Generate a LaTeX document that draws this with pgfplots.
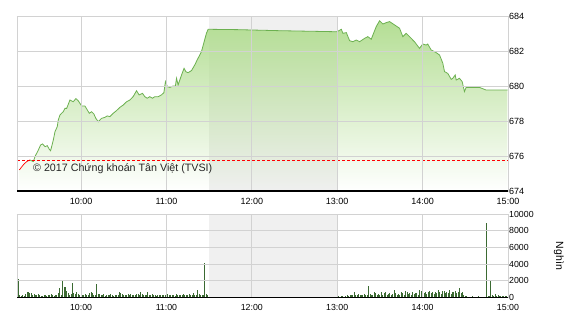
\documentclass[border=0pt]{standalone}
\usepackage{pgfplots}
\pgfplotsset{compat=1.18}
\usetikzlibrary{fadings}
\usepackage{fontspec}
\setmainfont{Liberation Sans}
\definecolor{gridc}{HTML}{D2D2D2}
\definecolor{linec}{HTML}{6CB050}
\definecolor{filltop}{HTML}{B4DE94}
\definecolor{bandc}{HTML}{F0F0F0}
\definecolor{barc}{HTML}{3B6A32}
\begin{document}
\begin{tikzpicture}
\path[use as bounding box] (0pt,0pt) rectangle (570pt,320pt);
\begin{axis}[
  at={(17pt,129pt)}, anchor=south west,
  width=491pt, height=175pt, scale only axis,
  xmin=15, xmax=360, ymin=674, ymax=684,
  xtick={60,120,180,240,300,360},
  xticklabels={10:00,11:00,12:00,13:00,14:00,15:00},
  ytick={674,676,678,680,682,684},
  yticklabels={674,676,678,680,682,684},
  yticklabel pos=right,
  major tick length=0pt,
  grid=major, grid style={gridc, line width=0.8pt},
  axis line style={gridc, line width=0.8pt},
  axis on top,
  tick label style={font=\fontsize{9}{10}\selectfont},
  yticklabel style={inner sep=1pt},
  xticklabel style={yshift=-4pt},
  clip=true,
]
\fill[bandc] (axis cs:150,674) rectangle (axis cs:240,684);
\addplot[draw=none, fill=filltop, path fading=south] coordinates {
(16.6,674)(16.6,675.20)(19.4,675.49)(21.8,675.68)(24.1,675.77)(26.5,675.68)(27.6,675.96)(30.0,676.34)(31.6,676.63)(33.0,676.69)(34.7,676.53)(36.3,676.59)(37.7,676.38)(38.6,676.30)(40.5,676.91)(41.7,677.39)(43.3,677.68)(44.0,678.06)(45.2,678.34)(46.3,678.44)(47.5,678.53)(48.7,678.72)(49.9,678.72)(52.2,679.20)(54.5,679.10)(56.4,679.28)(58.0,679.16)(59.2,679.01)(60.4,678.86)(62.7,678.86)(64.4,678.63)(65.8,678.44)(67.4,678.53)(69.0,678.40)(70.4,678.15)(72.1,677.96)(74.4,678.15)(76.8,678.21)(78.4,678.29)(80.3,678.25)(82.6,678.44)(84.9,678.59)(87.3,678.78)(89.6,678.91)(92.0,679.10)(94.3,679.20)(96.6,679.39)(99.0,679.73)(100.8,679.49)(103.2,679.58)(104.8,679.39)(106.5,679.30)(108.3,679.39)(110.2,679.30)(111.8,679.39)(114.2,679.39)(116.5,679.49)(118.2,679.62)(119.3,680.25)(120.7,679.96)(122.4,679.92)(124.7,680.00)(126.3,680.00)(127.1,680.44)(128.2,680.06)(129.4,680.34)(130.6,680.63)(132.4,681.01)(133.6,680.82)(135.2,680.76)(137.6,680.88)(139.9,681.20)(141.6,681.49)(143.4,681.77)(144.6,681.96)(146.2,682.44)(148.1,683.01)(149.3,683.24)(170,683.22)(199.6,683.16)(239.8,683.10)
(242.9,683.24)(244.0,683.01)(246.4,683.05)(248.7,682.59)(251.0,682.53)(253.4,682.63)(255.7,682.53)(259.2,682.72)(261.5,682.82)(263.9,682.67)(267.4,683.39)(269.8,683.73)(272.1,683.54)(274.4,683.62)(276.8,683.68)(280.3,683.49)(283.8,683.30)(286.1,682.82)(288.5,683.01)(292.0,682.72)(294.3,682.53)(297.8,682.15)(300.1,682.40)(302.5,682.34)(303.6,682.40)(306.0,682.06)(309.5,681.91)(311.9,681.77)(314.2,681.30)(315.4,680.82)(317.7,680.72)(320.1,680.38)(321.2,680.44)(322.9,680.63)(323.6,680.34)(325.9,680.44)(327.8,680.25)(329.4,679.68)(330.6,679.92)(339.9,679.92)(344.6,679.77)(359.8,679.77)(359.8,674)
};
\addplot[red, line width=0.7pt] coordinates {
(16.6,675.20)(19.4,675.49)(21.8,675.68)(24.1,675.77)
};
\addplot[linec, line width=0.8pt] coordinates {
(24.1,675.77)(26.5,675.68)(27.6,675.96)(30.0,676.34)(31.6,676.63)(33.0,676.69)(34.7,676.53)(36.3,676.59)(37.7,676.38)(38.6,676.30)(40.5,676.91)(41.7,677.39)(43.3,677.68)(44.0,678.06)(45.2,678.34)(46.3,678.44)(47.5,678.53)(48.7,678.72)(49.9,678.72)(52.2,679.20)(54.5,679.10)(56.4,679.28)(58.0,679.16)(59.2,679.01)(60.4,678.86)(62.7,678.86)(64.4,678.63)(65.8,678.44)(67.4,678.53)(69.0,678.40)(70.4,678.15)(72.1,677.96)(74.4,678.15)(76.8,678.21)(78.4,678.29)(80.3,678.25)(82.6,678.44)(84.9,678.59)(87.3,678.78)(89.6,678.91)(92.0,679.10)(94.3,679.20)(96.6,679.39)(99.0,679.73)(100.8,679.49)(103.2,679.58)(104.8,679.39)(106.5,679.30)(108.3,679.39)(110.2,679.30)(111.8,679.39)(114.2,679.39)(116.5,679.49)(118.2,679.62)(119.3,680.25)(120.7,679.96)(122.4,679.92)(124.7,680.00)(126.3,680.00)(127.1,680.44)(128.2,680.06)(129.4,680.34)(130.6,680.63)(132.4,681.01)(133.6,680.82)(135.2,680.76)(137.6,680.88)(139.9,681.20)(141.6,681.49)(143.4,681.77)(144.6,681.96)(146.2,682.44)(148.1,683.01)(149.3,683.24)(170,683.22)(199.6,683.16)(239.8,683.10)
(242.9,683.24)(244.0,683.01)(246.4,683.05)(248.7,682.59)(251.0,682.53)(253.4,682.63)(255.7,682.53)(259.2,682.72)(261.5,682.82)(263.9,682.67)(267.4,683.39)(269.8,683.73)(272.1,683.54)(274.4,683.62)(276.8,683.68)(280.3,683.49)(283.8,683.30)(286.1,682.82)(288.5,683.01)(292.0,682.72)(294.3,682.53)(297.8,682.15)(300.1,682.40)(302.5,682.34)(303.6,682.40)(306.0,682.06)(309.5,681.91)(311.9,681.77)(314.2,681.30)(315.4,680.82)(317.7,680.72)(320.1,680.38)(321.2,680.44)(322.9,680.63)(323.6,680.34)(325.9,680.44)(327.8,680.25)(329.4,679.68)(330.6,679.92)(339.9,679.92)(344.6,679.77)(359.8,679.77)
};
\addplot[red, line width=0.8pt, dash pattern=on 3pt off 2pt] coordinates {(15,675.77)(360,675.77)};
\end{axis}
\draw[black, line width=1.3pt] (17pt,129pt) -- (508pt,129pt);
\node[anchor=west, inner sep=0pt, font=\fontsize{10.7}{12}\selectfont, text=black!85] at (33pt,151pt) {© 2017 Chứng khoán Tân Việt (TVSI)};

\begin{axis}[
  at={(17pt,22.5pt)}, anchor=south west,
  width=491pt, height=83.5pt, scale only axis,
  xmin=15, xmax=360, ymin=0, ymax=10000,
  xtick={60,120,180,240,300,360},
  xticklabels={10:00,11:00,12:00,13:00,14:00,15:00},
  ytick={0,2000,4000,6000,8000,10000},
  yticklabels={0,2000,4000,6000,8000,10000},
  scaled y ticks=false,
  yticklabel pos=right,
  major tick length=0pt,
  grid=major, grid style={gridc, line width=0.8pt},
  axis line style={gridc, line width=0.8pt},
  axis on top,
  tick label style={font=\fontsize{8.8}{10}\selectfont},
  yticklabel style={inner sep=1pt},
  xticklabel style={yshift=-3pt},
]
\fill[bandc] (axis cs:150,0) rectangle (axis cs:240,10000);
\addplot[ycomb, barc, line width=0.9pt, mark=none] coordinates {
(16,2200)(17,250)(18,150)(19,300)(20,200)(21,450)(22,650)(23,600)(24,550)(25,500)(26,300)(27,400)(28,250)(29,350)(30,380)(31,300)(32,200)(33,150)(34,280)(35,350)(36,200)(37,300)(38,250)(39,400)(40,300)(41,200)(42,350)(43,300)(44,500)(45,1100)(46,350)(47,2100)(48,1300)(49,1200)(50,800)(51,500)(52,300)(53,450)(54,1750)(55,500)(56,400)(57,600)(58,450)(59,300)(60,350)(61,300)(62,250)(63,400)(64,300)(65,250)(66,500)(67,600)(68,550)(69,300)(70,250)(71,1650)(72,400)(73,450)(74,350)(75,300)(76,450)(77,200)(78,350)(79,300)(80,250)(81,400)(82,300)(83,200)(84,350)(85,300)(86,250)(87,600)(88,550)(89,400)(90,300)(91,350)(92,250)(93,400)(94,300)(95,450)(96,350)(97,250)(98,300)(99,400)(100,450)(101,300)(102,650)(103,400)(104,350)(105,300)(106,250)(107,700)(108,350)(109,300)(110,400)(111,250)(112,300)(113,200)(114,250)(115,350)(116,300)(117,250)(118,300)(119,300)(120,600)(121,400)(122,300)(123,350)(124,250)(125,300)(126,200)(127,400)(128,300)(129,250)(130,350)(131,300)(132,400)(133,250)(134,300)(135,350)(136,400)(137,300)(138,250)(139,500)(140,350)(141,300)(142,850)(143,400)(144,300)(145,350)(146,300)(147,4100)(148,400)(149,350)
(240,950)(241,150)(242,100)(243,120)(244,150)(245,100)(246,150)(247,300)(248,200)(249,350)(250,300)(251,250)(252,700)(253,300)(254,250)(255,400)(256,350)(257,300)(258,250)(259,400)(260,300)(261,350)(262,1350)(263,400)(264,350)(265,300)(266,600)(267,550)(268,300)(269,450)(270,250)(271,600)(272,350)(273,500)(274,650)(275,300)(276,450)(277,550)(278,300)(279,400)(280,850)(281,500)(282,300)(283,400)(284,350)(285,600)(286,550)(287,300)(288,800)(289,650)(290,450)(291,500)(292,350)(293,600)(294,400)(295,550)(296,500)(297,350)(298,950)(299,800)(300,600)(301,500)(302,700)(303,450)(304,600)(305,800)(306,500)(307,650)(308,400)(309,700)(310,550)(311,900)(312,600)(313,450)(314,750)(315,800)(316,500)(317,650)(318,550)(319,900)(320,450)(321,700)(322,600)(323,750)(324,500)(325,600)(326,1100)(327,550)(328,650)(329,300)(330,200)(331,150)(332,100)(335,150)(339,200)(345,8950)(346,150)(347,150)(348,2100)(349,250)(350,200)(351,450)(352,150)(353,250)(354,150)(355,200)(356,150)(357,200)(358,150)(359,200)
};
\end{axis}
\draw[black, line width=1.3pt] (17pt,22.5pt) -- (508pt,22.5pt);
\node[rotate=-90, font=\fontsize{10.5}{12}\selectfont] at (559pt,64pt) {Nghìn};
\end{tikzpicture}
\end{document}
